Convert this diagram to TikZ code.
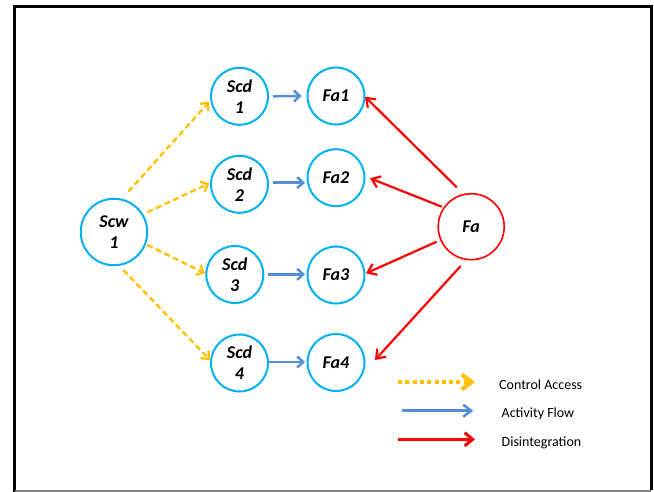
\documentclass[tikz,border=0pt]{standalone}
\usepackage{fontspec}
\setmainfont{Carlito}
\usetikzlibrary{arrows.meta,calc}
\definecolor{cyanc}{RGB}{0,176,240}
\definecolor{yel}{RGB}{255,192,0}
\definecolor{blu}{RGB}{85,142,213}
\definecolor{redc}{RGB}{255,0,0}
\begin{document}
\begin{tikzpicture}[x=1pt,y=-1pt,
  nd/.style={circle,draw=cyanc,line width=2pt,inner sep=0pt,align=center,
    font=\bfseries\itshape\fontsize{18}{21}\selectfont},
  smallnd/.style={nd,minimum size=57pt},
  bignd/.style={nd,minimum size=66.5pt},
  ctrl/.style={draw=yel,line width=2.3pt,dash pattern=on 6pt off 3.5pt,
    -{Straight Barb[length=6pt,width=11pt]}},
  flow/.style={draw=blu,line width=2.5pt,-{Straight Barb[length=6pt,width=11pt]}},
  dis/.style={draw=redc,line width=2.2pt,-{Straight Barb[length=8pt,width=12pt]}},
  lgd/.style={anchor=base west,inner sep=0pt,font=\fontsize{14}{16}\selectfont}]
\useasboundingbox (0,0) rectangle (654,492);
% frame
\draw[line width=2.5pt] (14.7,492) -- (14.7,6.3) -- (651.3,6.3) -- (651.3,490);
\draw[gray,line width=1.5pt] (14.7,490.8) -- (651.3,490.8);
% nodes
\node[bignd] (Scw) at (114,232) {Scw\\1};
\node[smallnd] (Scd1) at (239.5,96.3) {Scd\\1};
\node[smallnd] (Scd2) at (239.5,184.3) {Scd\\2};
\node[smallnd] (Scd3) at (234.8,274.5) {Scd\\3};
\node[smallnd] (Scd4) at (239.5,363) {Scd\\4};
\node[smallnd] (Fa1) at (336,96) {Fa1};
\node[smallnd] (Fa2) at (336,177.7) {Fa2};
\node[smallnd] (Fa3) at (336,275) {Fa3};
\node[smallnd] (Fa4) at (336,362.5) {Fa4};
\node[nd,draw=redc,line width=1.6pt,minimum size=66pt] (Fa) at (471.2,226.7) {Fa};
% control access
\draw[ctrl] ($(Scw)+(14.3,-40.3)$) -- ($(Scd1)+(-30.2,5.4)$);
\draw[ctrl] ($(Scw)+(33.3,-19.7)$) -- ($(Scd2)+(-30.2,-1)$);
\draw[ctrl] ($(Scw)+(33.3,13)$) -- ($(Scd3)+(-29.8,-1.2)$);
\draw[ctrl] ($(Scw)+(9.3,38)$) -- ($(Scd4)+(-29.5,-3)$);
% activity flow
\draw[flow] ($(Scd1)+(33.5,0)$) -- ($(Fa1)+(-34.3,0)$);
\draw[flow] ($(Scd2)+(33.5,-1.6)$) -- ($(Fa2)+(-31,5)$);
\draw[flow] ($(Scd3)+(33.2,-0.2)$) -- ($(Fa3)+(-31,-0.7)$);
\draw[flow] ($(Scd4)+(29.5,-1)$) -- ($(Fa4)+(-31,-0.5)$);
% disintegration
\draw[dis] ($(Fa)+(-14.5,-39.4)$) -- ($(Fa1)+(29,0.7)$);
\draw[dis] ($(Fa)+(-29.5,-20)$) -- ($(Fa2)+(34,0.6)$);
\draw[dis] ($(Fa)+(-34.5,15)$) -- ($(Fa3)+(30,-1.7)$);
\draw[dis] ($(Fa)+(-10.5,39.3)$) -- ($(Fa4)+(39,-2.5)$);
% legend
\coordinate (c1s) at (398,382); \coordinate (c1e) at (475,382);
\coordinate (c2s) at (401.5,410.7); \coordinate (c2e) at (473.3,410.7);
\coordinate (c3s) at (398.3,439.3); \coordinate (c3e) at (475,439.3);
\draw[draw=yel,line width=4pt,dash pattern=on 4pt off 3.3pt,
  -{Straight Barb[length=10pt,width=15pt]}] (c1s) -- (c1e);
\draw[draw=blu,line width=2.5pt,-{Straight Barb[length=8pt,width=12pt]}] (c2s) -- (c2e);
\draw[draw=redc,line width=3pt,-{Straight Barb[length=8pt,width=13pt]}] (c3s) -- (c3e);
\node[lgd] (t1) at (499,389.3) {Control Access};
\node[lgd] (t2) at (501.5,417) {Activity Flow};
\node[lgd] (t3) at (501.5,446) {Disintegration};
\end{tikzpicture}
\end{document}
